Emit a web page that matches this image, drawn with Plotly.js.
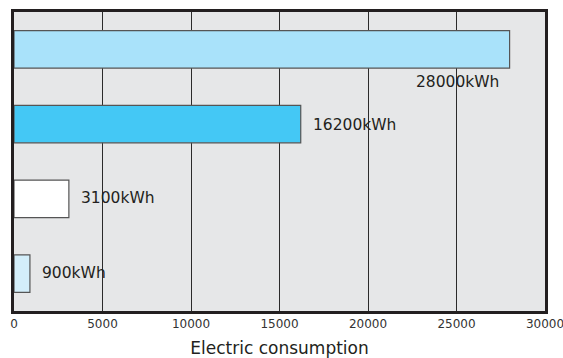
<!DOCTYPE html>
<html>
<head>
<meta charset="utf-8">
<script src="https://cdn.plot.ly/plotly-3.0.1.min.js"></script>
<style>html,body{margin:0;padding:0;background:#fff;}#chart{width:563px;height:358px;}</style>
</head>
<body>
<div id="chart"></div>
<script>
var categories = ["A", "B", "C", "D"];
var values = [28000, 16200, 3100, 900];
var valueLabels = ["28000kWh", "16200kWh", "3100kWh", "900kWh"];
var barColors = ["#a9e2fa", "#44c8f5", "#ffffff", "#d3eefa"];
var tickValues = [0, 5000, 10000, 15000, 20000, 25000, 30000];
var tickLabels = ["0", "5000", "10000", "15000", "20000", "25000", "30000"];
var axisTitle = "Electric consumption";

var trace = {
  type: "bar",
  orientation: "h",
  y: categories,
  x: values,
  width: 0.5,
  marker: {color: barColors, line: {color: "#555555", width: 1.2}},
  hoverinfo: "none"
};

var labelYShift = [-33, -1, 1, 1];
var annotations = values.map(function (v, i) {
  var first = i === 0;
  return {
    x: v, y: categories[i], xref: "x", yref: "y",
    text: valueLabels[i], showarrow: false,
    xanchor: first ? "right" : "left", yanchor: "middle",
    xshift: first ? -9 : 10, yshift: labelYShift[i],
    font: {family: "DejaVu Sans", size: 15.5, color: "#231f20"}
  };
});

var layout = {
  width: 563, height: 358,
  margin: {l: 14, r: 18, t: 12, b: 47},
  paper_bgcolor: "#ffffff",
  plot_bgcolor: "#e6e7e8",
  showlegend: false,
  xaxis: {
    range: [0, 30000],
    tickvals: tickValues, ticktext: tickLabels,
    ticklabeloverflow: "allow",
    showgrid: true, gridcolor: "#2b2b2b", gridwidth: 1,
    zeroline: false,
    showline: true, linecolor: "#231f20", linewidth: 3, mirror: true,
    ticks: "", ticklen: 0,
    tickfont: {family: "DejaVu Sans", size: 12, color: "#333333"},
    title: {text: axisTitle, standoff: 13, font: {family: "DejaVu Sans", size: 17, color: "#231f20"}}
  },
  yaxis: {
    type: "category",
    categoryorder: "array", categoryarray: categories,
    range: [3.5, -0.5],
    showgrid: false, zeroline: false,
    showline: true, linecolor: "#231f20", linewidth: 3, mirror: true,
    showticklabels: false, ticks: ""
  },
  annotations: annotations
};

Plotly.newPlot("chart", [trace], layout, {displayModeBar: false, staticPlot: true});
</script>
</body>
</html>
